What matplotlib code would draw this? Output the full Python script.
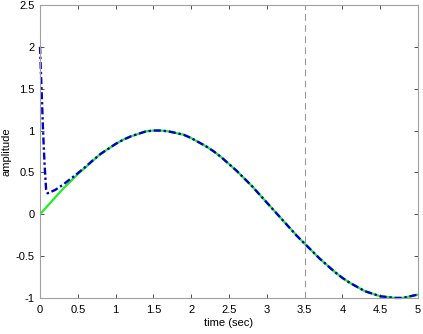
import matplotlib
matplotlib.use("Agg")
import matplotlib.pyplot as plt

# true signal, every 0.1 s
t_true = [round(0.1 * i, 1) for i in range(51)]
y_true = [0.00, 0.10, 0.20, 0.30, 0.39, 0.48, 0.56, 0.64, 0.72, 0.78,
          0.84, 0.89, 0.93, 0.96, 0.99, 1.00, 1.00, 0.99, 0.97, 0.95,
          0.91, 0.86, 0.81, 0.75, 0.68, 0.60, 0.52, 0.43, 0.34, 0.24,
          0.14, 0.04, -0.06, -0.16, -0.26, -0.35, -0.44, -0.53, -0.61, -0.69,
          -0.76, -0.82, -0.87, -0.92, -0.95, -0.98, -0.99, -1.00, -1.00, -0.98,
          -0.96]

# estimate: transient at the start, then on top of the true signal
t_est_start = [0.0, 0.02, 0.04, 0.06, 0.08, 0.1, 0.2, 0.3, 0.4, 0.5, 0.6, 0.7]
y_est_start = [2.0, 1.5, 1.0, 0.6, 0.3, 0.25, 0.29, 0.35, 0.42, 0.49, 0.565, 0.645]

t_est = t_est_start + t_true[8:]
y_est = y_est_start + y_true[8:]

t_mark = 3.5

plt.rcParams["font.family"] = ["Liberation Sans", "DejaVu Sans"]
plt.rcParams["font.size"] = 8

fig = plt.figure(figsize=(4.23, 3.34), dpi=100)
ax = fig.add_axes([0.0946, 0.108, 0.8934, 0.877])

ax.plot(t_true, y_true, color="#22ee22", lw=1.6)
ax.plot(t_est, y_est, color="#0000cc", lw=1.7, ls=(0, (3, 1.2, 1, 1.2)),
        clip_on=False)
ax.axvline(t_mark, color="#999999", lw=0.8, ls=(0, (6, 4)))

ax.set_xlim(0, 5)
ax.set_ylim(-1, 2.5)
ax.set_xticks([0.5 * i for i in range(11)])
ax.set_xticklabels(["0", "0.5", "1", "1.5", "2", "2.5", "3", "3.5", "4", "4.5", "5"])
ax.set_yticks([-1, -0.5, 0, 0.5, 1, 1.5, 2, 2.5])
ax.set_yticklabels(["-1", "-0.5", "0", "0.5", "1", "1.5", "2", "2.5"])
ax.tick_params(direction="in", top=True, right=True, length=3, width=0.6,
               color="#333333", labelsize=8)
ax.tick_params(axis="x", pad=5)
ax.tick_params(axis="y", pad=4)
for s in ax.spines.values():
    s.set_color("#a0a0a0")
    s.set_linewidth(0.8)

ax.set_xlabel("time (sec)", labelpad=2)
ax.set_ylabel("amplitude", labelpad=3)

fig.savefig("out.png", dpi=100)
